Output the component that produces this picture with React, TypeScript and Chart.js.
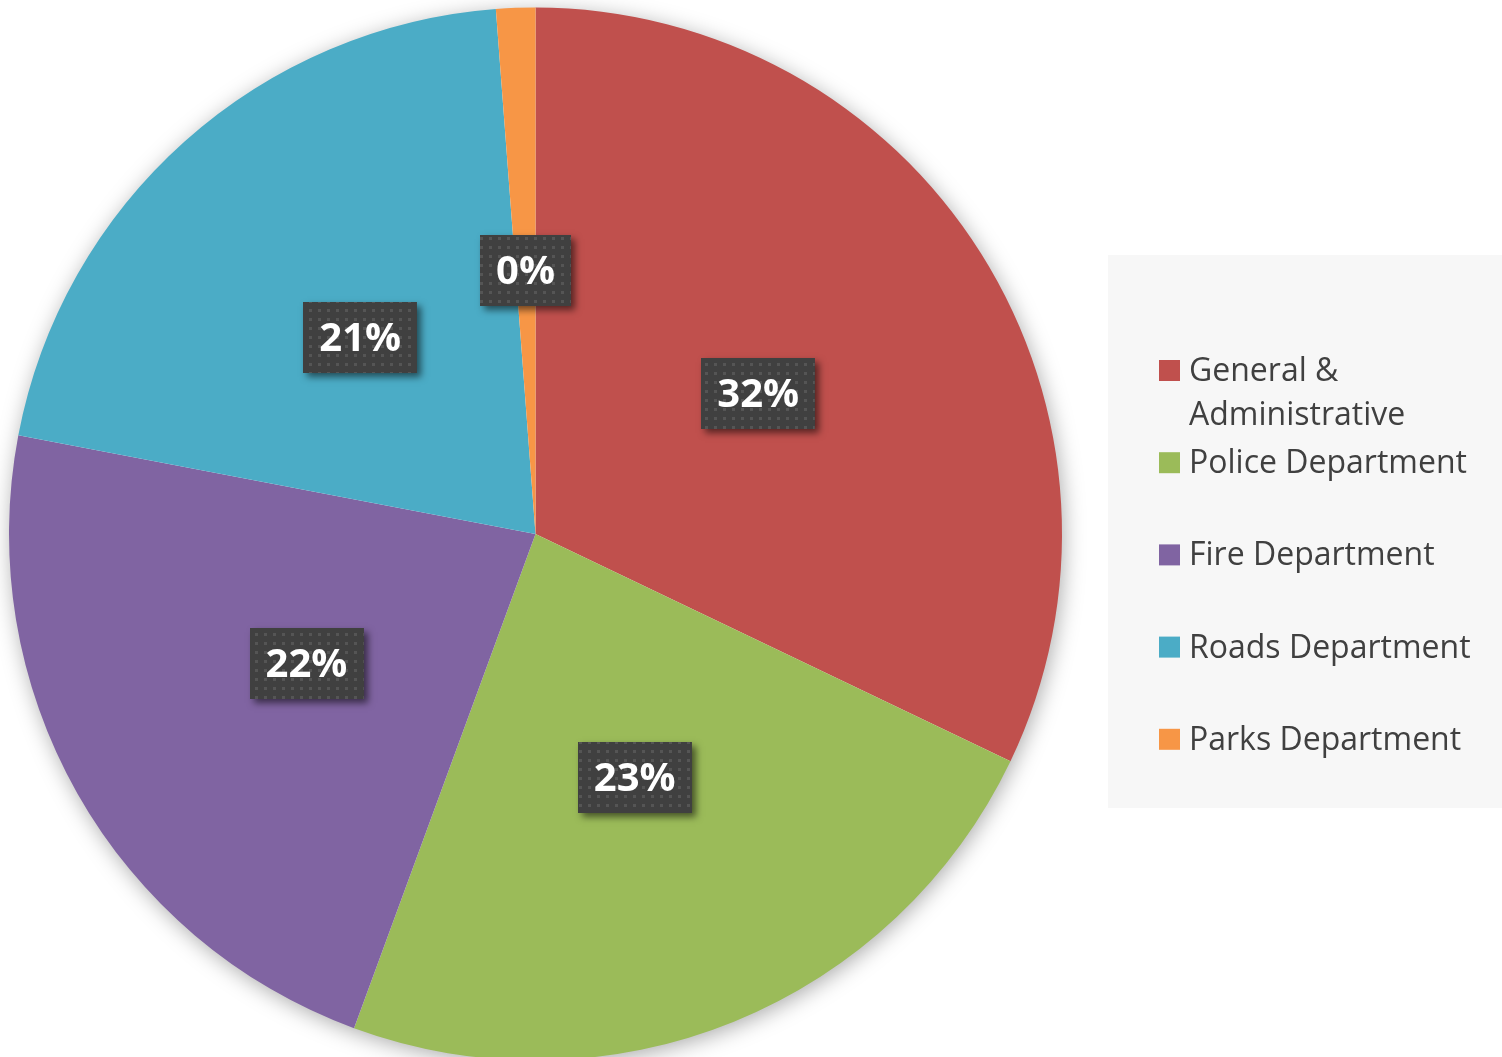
import React, { useEffect, useRef } from "react";
import { Chart, registerables } from "chart.js";

Chart.register(...registerables);

const categories = [
  "General & Administrative",
  "Police Department",
  "Fire Department",
  "Roads Department",
  "Parks Department",
];
const shares = [32.1, 23.5, 22.4, 20.8, 1.2];
const shareLabels = ["32%", "23%", "22%", "21%", "0%"];
const colors = ["#C0504D", "#9BBB59", "#8064A2", "#4BACC6", "#F79646"];

const LABEL_FONT = 'bold 40px "Open Sans", "Noto Sans", sans-serif';
const LEGEND_FONT = '32px "Open Sans", "Noto Sans", sans-serif';

function makeDotPattern(ctx: CanvasRenderingContext2D) {
  const c = document.createElement("canvas");
  c.width = 9;
  c.height = 9;
  const t = c.getContext("2d")!;
  t.fillStyle = "#404040";
  t.fillRect(0, 0, 9, 9);
  t.fillStyle = "#555555";
  t.fillRect(3, 3, 3, 3);
  return ctx.createPattern(c, "repeat");
}

const pieShadow = {
  id: "pieShadow",
  beforeDatasetsDraw(chart: any) {
    const meta = chart.getDatasetMeta(0);
    const arc = meta.data[0];
    if (!arc) return;
    const { x, y, outerRadius } = arc.getProps(["x", "y", "outerRadius"], true);
    const ctx = chart.ctx as CanvasRenderingContext2D;
    ctx.save();
    ctx.shadowColor = "rgba(0,0,0,0.35)";
    ctx.shadowBlur = 22;
    ctx.shadowOffsetX = 2;
    ctx.shadowOffsetY = 4;
    ctx.beginPath();
    ctx.arc(x, y, outerRadius - 1, 0, Math.PI * 2);
    ctx.fillStyle = "#ffffff";
    ctx.fill();
    ctx.restore();
  },
};

const labelBoxes = {
  id: "labelBoxes",
  afterDatasetsDraw(chart: any) {
    const meta = chart.getDatasetMeta(0);
    const ctx = chart.ctx as CanvasRenderingContext2D;
    const pattern = makeDotPattern(ctx);
    meta.data.forEach((arc: any, i: number) => {
      const p = arc.getCenterPoint();
      const text = shareLabels[i];
      ctx.save();
      ctx.font = LABEL_FONT;
      const tw = ctx.measureText(text).width;
      const w = tw + 32;
      const h = 71;
      const bx = Math.round(p.x - w / 2);
      const by = Math.round(p.y - h / 2);
      ctx.shadowColor = "rgba(0,0,0,0.55)";
      ctx.shadowBlur = 7;
      ctx.shadowOffsetX = 4;
      ctx.shadowOffsetY = 4;
      ctx.fillStyle = "#404040";
      ctx.fillRect(bx, by, w, h);
      ctx.shadowColor = "transparent";
      if (pattern) {
        ctx.fillStyle = pattern;
        ctx.fillRect(bx, by, w, h);
      }
      ctx.fillStyle = "#ffffff";
      ctx.textAlign = "center";
      ctx.textBaseline = "middle";
      ctx.fillText(text, p.x, p.y + 2);
      ctx.restore();
    });
  },
};

const legendPanel = {
  id: "legendPanel",
  afterDraw(chart: any) {
    const ctx = chart.ctx as CanvasRenderingContext2D;
    const labels: string[] = chart.data.labels;
    const bg: string[] = chart.data.datasets[0].backgroundColor;
    ctx.save();
    ctx.fillStyle = "#f7f7f7";
    ctx.fillRect(1108, 255, 394, 553);
    ctx.font = LEGEND_FONT;
    ctx.textAlign = "left";
    ctx.textBaseline = "alphabetic";
    const maxW = 310;
    labels.forEach((label, i) => {
      const base = 381 + i * 92.2;
      ctx.fillStyle = bg[i];
      ctx.fillRect(1159, base - 21, 21, 21);
      const words = label.split(" ");
      const lines: string[] = [];
      let cur = "";
      words.forEach((wd) => {
        const test = cur ? cur + " " + wd : wd;
        if (ctx.measureText(test).width > maxW && cur) {
          lines.push(cur);
          cur = wd;
        } else cur = test;
      });
      if (cur) lines.push(cur);
      ctx.fillStyle = "#404040";
      lines.forEach((ln, j) => ctx.fillText(ln, 1189, base + j * 44));
    });
    ctx.restore();
  },
};

export default function App() {
  const ref = useRef<HTMLCanvasElement | null>(null);
  useEffect(() => {
    document.body.style.margin = "0";
    const canvas = ref.current!;
    const chart = new Chart(canvas, {
      type: "pie",
      data: {
        labels: categories,
        datasets: [
          {
            data: shares,
            backgroundColor: colors,
            borderWidth: 0,
            hoverOffset: 0,
          },
        ],
      },
      options: {
        responsive: false,
        animation: false,
        devicePixelRatio: 1,
        layout: { padding: { left: 9, top: 7, right: 440, bottom: 5 } },
        plugins: {
          legend: { display: false },
          tooltip: { enabled: false },
        },
        events: [],
      },
      plugins: [pieShadow, labelBoxes, legendPanel],
    });
    const fonts = (document as any).fonts;
    if (fonts && fonts.load) {
      Promise.all([fonts.load(LABEL_FONT), fonts.load(LEGEND_FONT)]).then(() => {
        chart.draw();
      });
    }
    return () => chart.destroy();
  }, []);
  return (
    <div style={{ width: 1502, height: 1057, overflow: "hidden", background: "#ffffff" }}>
      <canvas ref={ref} width={1502} height={1066} style={{ display: "block" }} />
    </div>
  );
}
